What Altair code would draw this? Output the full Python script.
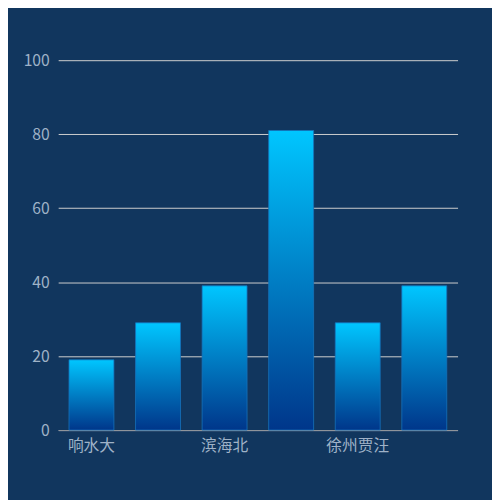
import altair as alt
import pandas as pd

categories = ["响水大", "灌云", "滨海北", "东台", "徐州贾汪", "如东"]
values = [19, 29, 39, 81, 29, 39]
shown_labels = ["响水大", "滨海北", "徐州贾汪"]
y_ticks = [0, 20, 40, 60, 80, 100]

df = pd.DataFrame({"name": categories, "value": values})

FONT = "Noto Sans CJK SC"
LABEL_COLOR = "#9fb2c7"

bars = alt.Chart(df).mark_bar(
    color=alt.Gradient(
        gradient="linear",
        stops=[
            alt.GradientStop(color="#00c6ff", offset=0),
            alt.GradientStop(color="#00368a", offset=1),
        ],
        x1=0, x2=0, y1=0, y2=1,
    ),
    stroke="#1673bb",
    strokeWidth=1,
    strokeOpacity=0.8,
).encode(
    x=alt.X(
        "name:N",
        sort=categories,
        title=None,
        scale=alt.Scale(paddingInner=0.325, paddingOuter=0.1625),
        axis=alt.Axis(
            values=shown_labels,
            labelAngle=0,
            labelColor=LABEL_COLOR,
            labelFont=FONT,
            labelFontSize=16,
            labelPadding=8,
            ticks=False,
            domainColor="#8a8f96",
            domainWidth=1,
            grid=False,
        ),
    ),
    y=alt.Y(
        "value:Q",
        title=None,
        scale=alt.Scale(domain=[0, 100], nice=False),
        axis=alt.Axis(
            values=y_ticks,
            labelColor=LABEL_COLOR,
            labelFont=FONT,
            labelFontSize=16,
            labelPadding=9,
            ticks=False,
            domain=False,
            grid=True,
            gridColor="#d0d0d0",
            gridWidth=1,
        ),
    ),
)

chart = bars.properties(
    width=406,
    height=376,
    background="#11365e",
    autosize=alt.AutoSizeParams(type="none"),
    padding={"left": 51, "top": 49, "right": 35, "bottom": 67},
).configure_view(stroke=None)

chart.save("out.html", embed_options={"renderer": "svg", "actions": False})
